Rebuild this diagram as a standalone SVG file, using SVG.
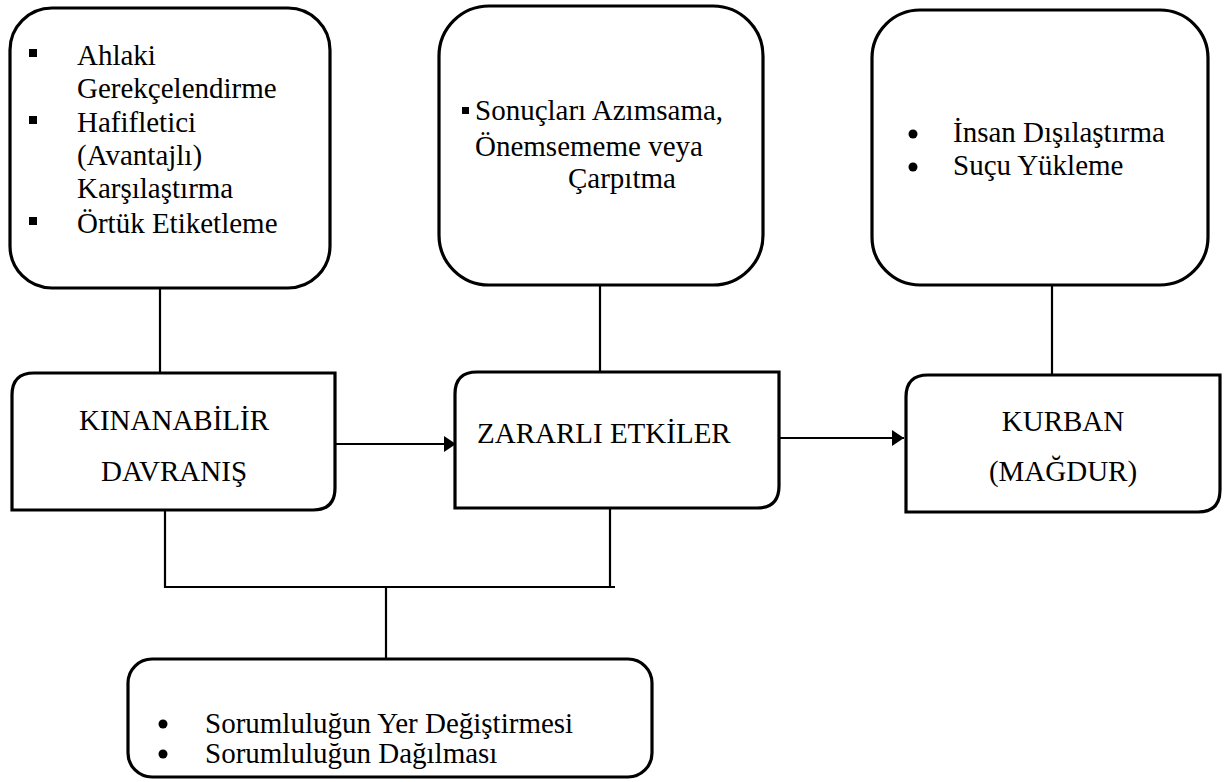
<svg xmlns="http://www.w3.org/2000/svg" width="1224" height="782" viewBox="0 0 1224 782">
<defs>
<marker id="arr" markerWidth="12" markerHeight="16" refX="12" refY="8" orient="auto" markerUnits="userSpaceOnUse">
<path d="M0,0 L12,8 L0,16 Z" fill="#000"/>
</marker>
<style>
.box{fill:#fff;stroke:#000;stroke-width:3.2}
.ln{fill:none;stroke:#000;stroke-width:2.2}
.t{font-family:'Liberation Serif','DejaVu Serif',serif;font-size:29px;fill:#000}
.c{text-anchor:middle}
</style>
</defs>
<rect width="1224" height="782" fill="#fff"/>
<g id="connectors">
<line class="ln" x1="160" y1="288" x2="160" y2="373"/>
<line class="ln" x1="600" y1="285" x2="600" y2="372"/>
<line class="ln" x1="1052" y1="285" x2="1052" y2="375"/>
<line class="ln" x1="335" y1="444" x2="456" y2="444" marker-end="url(#arr)"/>
<line class="ln" x1="779" y1="438" x2="904" y2="438" marker-end="url(#arr)"/>
<polyline class="ln" points="165,510 165,587 615,587"/>
<line class="ln" x1="610" y1="508" x2="610" y2="587"/>
<line class="ln" x1="386" y1="587" x2="386" y2="659"/>
</g>
<g id="box-tl" class="t" font-family="Liberation Serif, serif">
<rect class="box" x="10" y="8" width="320" height="280" rx="42"/>
<rect x="29" y="49" width="8" height="8"/>
<rect x="29" y="116" width="8" height="8"/>
<rect x="29" y="217" width="8" height="8"/>
<text x="77" y="65">Ahlaki</text>
<text x="77" y="98">Gerekçelendirme</text>
<text x="77" y="132">Hafifletici</text>
<text x="77" y="165">(Avantajlı)</text>
<text x="77" y="198">Karşılaştırma</text>
<text x="77" y="233">Örtük Etiketleme</text>
</g>
<g id="box-tm" class="t" font-family="Liberation Serif, serif">
<rect class="box" x="439" y="6" width="324" height="279" rx="50"/>
<rect x="462" y="107" width="7" height="7"/>
<text x="475" y="120">Sonuçları Azımsama,</text>
<text x="475" y="156">Önemsememe veya</text>
<text x="568" y="188">Çarpıtma</text>
</g>
<g id="box-tr" class="t" font-family="Liberation Serif, serif">
<rect class="box" x="872" y="10" width="336" height="275" rx="48"/>
<circle cx="913" cy="134" r="4.5"/>
<circle cx="913" cy="167" r="4.5"/>
<text x="953" y="142">İnsan Dışılaştırma</text>
<text x="953" y="175">Suçu Yükleme</text>
</g>
<g id="box-kinanabilir" class="t" font-family="Liberation Serif, serif">
<path class="box" d="M12,510 L12,395 Q12,373 34,373 L335,373 L335,488 Q335,510 313,510 Z"/>
<text class="c" x="174" y="430">KINANABİLİR</text>
<text class="c" x="174" y="481">DAVRANIŞ</text>
</g>
<g id="box-zararli" class="t" font-family="Liberation Serif, serif">
<path class="box" d="M455,508 L455,394 Q455,372 477,372 L779,372 L779,486 Q779,508 757,508 Z"/>
<text x="477" y="443">ZARARLI ETKİLER</text>
</g>
<g id="box-kurban" class="t" font-family="Liberation Serif, serif">
<path class="box" d="M906,512 L906,397 Q906,375 928,375 L1220,375 L1220,490 Q1220,512 1198,512 Z"/>
<text class="c" x="1063" y="431">KURBAN</text>
<text class="c" x="1063" y="481">(MAĞDUR)</text>
</g>
<g id="box-bottom" class="t" font-family="Liberation Serif, serif">
<rect class="box" x="128" y="659" width="524" height="118" rx="24"/>
<circle cx="163" cy="724" r="4.5"/>
<circle cx="163" cy="754" r="4.5"/>
<text x="205" y="733">Sorumluluğun Yer Değiştirmesi</text>
<text x="205" y="763">Sorumluluğun Dağılması</text>
</g>
</svg>
